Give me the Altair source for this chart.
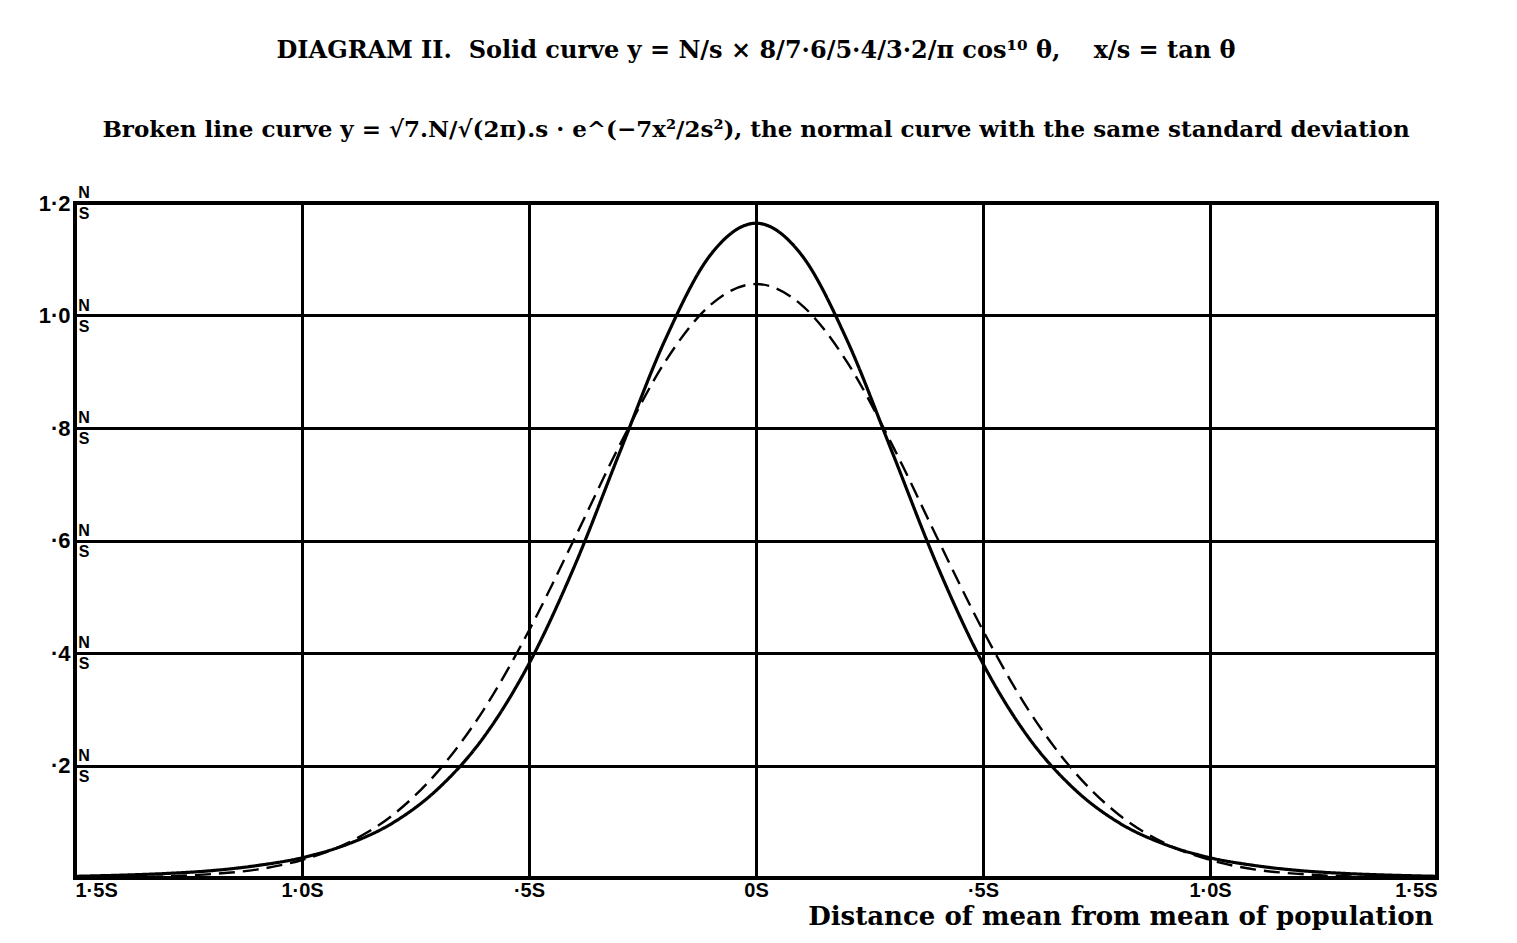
import altair as alt
import pandas as pd

# Distance of mean from mean of population (in units of s)
x_vals = [-1.5, -1.4, -1.3, -1.2, -1.1, -1.0, -0.9, -0.8, -0.7, -0.6, -0.5,
          -0.4, -0.3, -0.2, -0.1, 0.0, 0.1, 0.2, 0.3, 0.4, 0.5,
          0.6, 0.7, 0.8, 0.9, 1.0, 1.1, 1.2, 1.3, 1.4, 1.5]
# Solid curve (in units of N/s)
solid_vals = [0.003, 0.005, 0.008, 0.013, 0.022, 0.036, 0.060, 0.098, 0.159, 0.250, 0.381,
              0.554, 0.757, 0.957, 1.108, 1.164, 1.108, 0.957, 0.757, 0.554, 0.381,
              0.250, 0.159, 0.098, 0.060, 0.036, 0.022, 0.013, 0.008, 0.005, 0.003]
# Broken line curve (normal curve with same standard deviation)
broken_vals = [0.0004, 0.001, 0.003, 0.007, 0.015, 0.032, 0.062, 0.112, 0.190, 0.299, 0.440,
               0.603, 0.770, 0.918, 1.019, 1.056, 1.019, 0.918, 0.770, 0.603, 0.440,
               0.299, 0.190, 0.112, 0.062, 0.032, 0.015, 0.007, 0.003, 0.001, 0.0004]

x_ticks = [-1.5, -1.0, -0.5, 0.0, 0.5, 1.0, 1.5]
x_tick_labels = ["1·5S", "1·0S", "·5S", "0S", "·5S", "1·0S", "1·5S"]
y_ticks = [0.2, 0.4, 0.6, 0.8, 1.0, 1.2]
y_tick_labels = ["·2", "·4", "·6", "·8", "1·0", "1·2"]

NB = "\u00a0"
title_line1 = ("DIAGRAM II." + NB * 2 + "Solid curve y = N/s × 8/7·6/5·4/3·2/π cos¹⁰ θ,"
               + NB * 4 + "x/s = tan θ")
title_line2 = ("Broken line curve y = √7.N/√(2π).s · e^(−7x²/2s²), "
               "the normal curve with the same standard deviation")
x_title = "Distance of mean from mean of population"


def label_expr(vals, labels):
    expr = "''"
    for v, l in reversed(list(zip(vals, labels))):
        expr = f"abs(datum.value - ({v})) < 0.001 ? '{l}' : {expr}"
    return expr


df = pd.DataFrame({
    "x": x_vals * 2,
    "y": solid_vals + broken_vals,
    "curve": ["Solid"] * len(x_vals) + ["Broken"] * len(x_vals),
})
df_ns = pd.DataFrame({"y": y_ticks, "x": [x_vals[0]] * len(y_ticks)})

x_scale = alt.Scale(domain=[-1.5, 1.5], nice=False, zero=False)
y_scale = alt.Scale(domain=[0, 1.2], nice=False)

lines = alt.Chart(df).mark_line(interpolate="monotone", color="black").encode(
    x=alt.X("x:Q", scale=x_scale,
            axis=alt.Axis(values=x_ticks, labelExpr=label_expr(x_ticks, x_tick_labels),
                          title=x_title, titleX=1358, titleY=46, titleAlign="right",
                          titleBaseline="alphabetic", titleAnchor="end",
                          titleFont="DejaVu Serif", titleFontSize=26, titleFontWeight="bold",
                          labelFont="Liberation Sans", labelFontSize=20, labelFontWeight="bold",
                          labelPadding=2, labelColor="black", titleColor="black")),
    y=alt.Y("y:Q", scale=y_scale,
            axis=alt.Axis(values=y_ticks, labelExpr=label_expr(y_ticks, y_tick_labels),
                          title=None, labelFont="Liberation Sans", labelFontSize=22,
                          labelFontWeight="bold", labelPadding=5, labelColor="black",
                          labelBaseline="middle")),
    strokeDash=alt.StrokeDash("curve:N",
                              scale=alt.Scale(domain=["Solid", "Broken"], range=[[1, 0], [16, 8]]),
                              legend=None),
    strokeWidth=alt.StrokeWidth("curve:N",
                                scale=alt.Scale(domain=["Solid", "Broken"], range=[3.2, 2.4]),
                                legend=None),
    detail="curve:N",
)

n_text = alt.Chart(df_ns).mark_text(text="N", font="Liberation Sans", fontSize=16,
                                    fontWeight="bold", color="black", dx=9, dy=-10,
                                    align="center").encode(x="x:Q", y="y:Q")
s_text = alt.Chart(df_ns).mark_text(text="S", font="Liberation Sans", fontSize=16,
                                    fontWeight="bold", color="black", dx=9, dy=11,
                                    align="center").encode(x="x:Q", y="y:Q")

chart = alt.layer(lines, n_text, s_text).properties(
    width=1362, height=675,
    autosize=alt.AutoSizeParams(type="none"),
    padding={"left": 67, "top": 195, "right": 72, "bottom": 57},
    background="white",
    title=alt.TitleParams(
        text=title_line1, subtitle=title_line2, anchor="middle",
        font="DejaVu Serif", fontSize=24, fontWeight="bold", color="black",
        subtitleFont="DejaVu Serif", subtitleFontSize=23, subtitleFontWeight="bold",
        subtitleColor="black", subtitlePadding=56, offset=43,
    ),
).configure_view(
    stroke="black", strokeWidth=4
).configure_axis(
    grid=True, gridColor="black", gridWidth=3, gridOpacity=1,
    domain=False, ticks=False,
)

chart.save("out.html", embed_options={"renderer": "svg", "actions": False})
